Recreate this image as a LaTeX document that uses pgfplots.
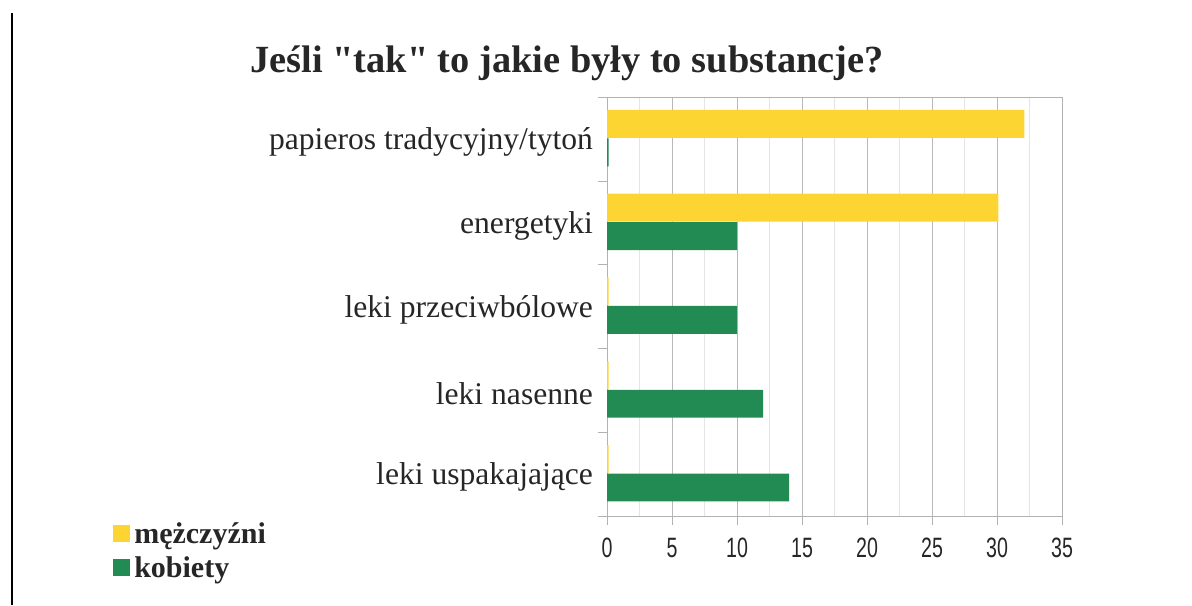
\documentclass[border=0pt]{standalone}
\usepackage{fontspec}
\setmainfont{Liberation Serif}
\newfontfamily\plainserif{Liberation Serif}
\newfontfamily\ticksans{Liberation Sans}
\usepackage{graphicx}
\usepackage{pgfplots}
\pgfplotsset{compat=1.18}
\definecolor{myyellow}{RGB}{253,213,50}
\definecolor{mygreen}{RGB}{34,139,84}
\begin{document}
\begin{tikzpicture}
\useasboundingbox (0pt,0pt) rectangle (596pt,302.5pt);
\draw[black, line width=1pt] (6pt,296pt) -- (6pt,0pt);
\node[font=\fontsize{19.2}{22}\plainserif\bfseries, text=black!85] at (283.5pt,271pt) {Jeśli "tak" to jakie były to substancje?};
\begin{axis}[
  at={(303.5pt,44.5pt)}, anchor=south west,
  scale only axis, width=227.5pt, height=209.5pt,
  xmin=0, xmax=35, ymin=-0.5, ymax=4.5,
  xbar, bar width=0.333,
  xtick={0,5,...,35},
  minor xtick={2.5,7.5,...,32.5},
  xmajorgrids, xminorgrids,
  major grid style={gray!55, line width=0.5pt},
  minor grid style={gray!20, line width=0.5pt},
  axis line style={gray!60},
  tick style={gray!60},
  tick align=outside,
  xtick pos=bottom,
  major tick length=4.5pt,
  minor tick length=0pt,
  ytick={-0.5,0.5,1.5,2.5,3.5,4.5},
  yticklabels={},
  ytick pos=left,
  extra y ticks={0,1,2,3,4},
  extra y tick labels={leki uspakajające, leki nasenne, leki przeciwbólowe, energetyki, papieros tradycyjny/tytoń},
  extra y tick style={major tick length=0pt, yticklabel style={font=\fontsize{15.8}{18}\selectfont, text=black!85, anchor=east, yshift=-1.5pt, xshift=-3.5pt}},
  /pgf/number format/assume math mode=true,
  xticklabel={\scalebox{0.7}[1]{\ticksans\pgfmathprintnumber{\tick}}},
  xticklabel style={font=\fontsize{14}{16}\selectfont, text=black!85, yshift=-3pt},
  legend style={at={(-1.086,-0.005)}, anchor=north west, draw=none, fill=none,
    font=\fontsize{15}{17}\selectfont\bfseries, text=black!85, row sep=1pt, inner sep=0pt,
    cells={anchor=west}},
  legend image code/.code={\fill[#1] (0pt,-4pt) rectangle (8.5pt,4.5pt);},
  legend cell align=left,
]
\addplot[draw=none, fill=myyellow, bar shift=0.18] coordinates {(32.1,4) (30.1,3) (0.12,2) (0.12,1) (0.12,0)};
\addplot[draw=none, fill=mygreen, bar shift=-0.16] coordinates {(0.12,4) (10,3) (10,2) (12,1) (14,0)};
\legend{mężczyźni, kobiety}
\end{axis}
\end{tikzpicture}
\end{document}
